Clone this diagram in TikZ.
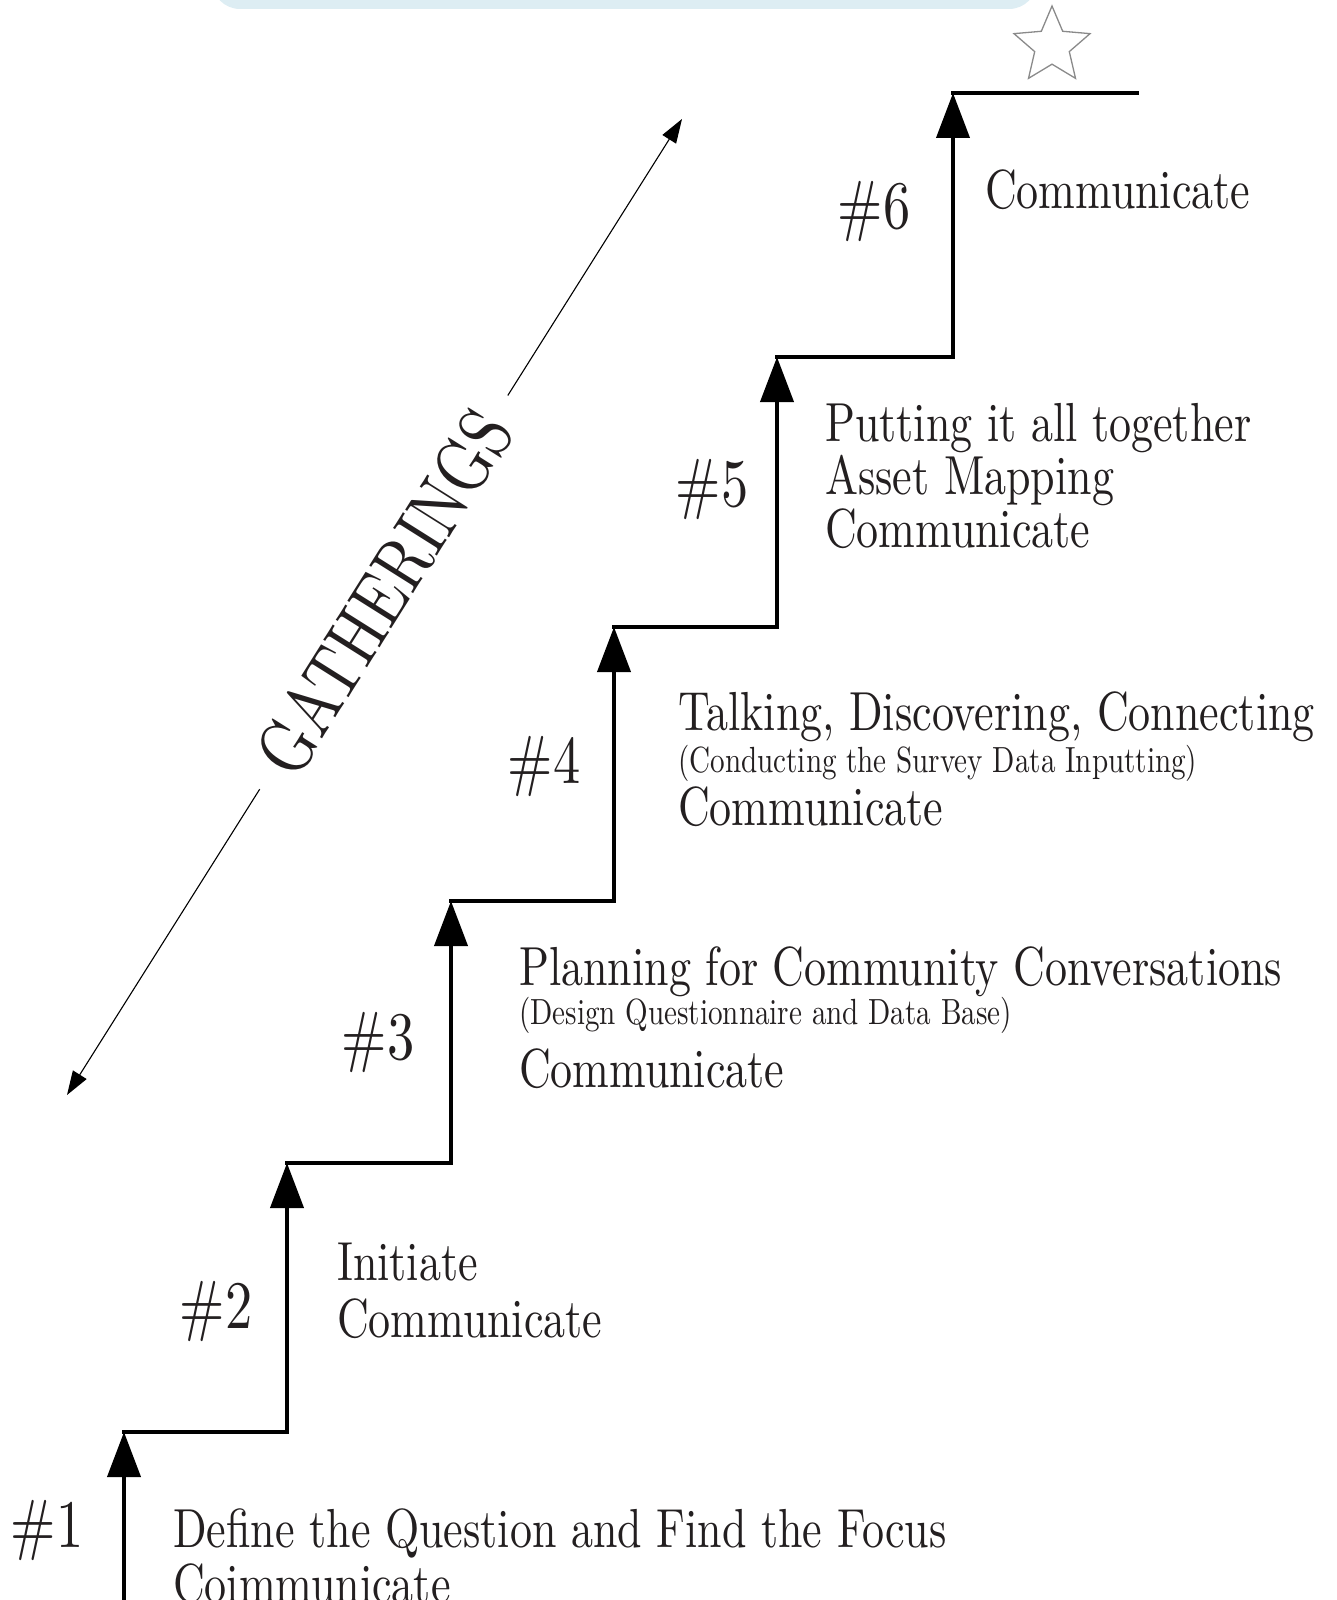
\documentclass[tikz,border=0pt]{standalone}
\usepackage{fontspec}
\setmainfont{lmroman10-regular.otf}[FakeStretch=0.8]
\usepackage{tikz}
\usetikzlibrary{arrows.meta,shapes.geometric,calc}

\definecolor{ink}{HTML}{231F20}
\definecolor{boxblue}{HTML}{DDEDF3}
\definecolor{stargray}{HTML}{8A8A8A}

\begin{document}
\begin{tikzpicture}[x=1pt,y=-1pt,
  riser/.style={line width=4pt, line cap=rect, -{Triangle[length=45pt,width=33pt]}},
  tread/.style={line width=4pt, line cap=rect},
  steplabel/.style={anchor=base, inner sep=0pt, text=ink, font=\fontsize{68}{68}\selectfont},
  bigline/.style={anchor=base west, inner sep=0pt, text=ink, font=\fontsize{55}{55}\selectfont},
  smallline/.style={anchor=base west, inner sep=0pt, text=ink, font=\fontsize{36.4}{36.4}\selectfont},
  gath/.style={line width=1.1pt, -{Triangle[length=24pt,width=16pt]}}]
\useasboundingbox (0,0) rectangle (1337,1600);

% box at the top edge
\fill[boxblue, rounded corners=28pt] (212,-60) rectangle (1037,9);

% corners of the stairs
\coordinate (c0) at (124,1600);
\coordinate (c1) at (124,1432);
\coordinate (c2) at (287,1432);
\coordinate (c3) at (287,1163);
\coordinate (c4) at (451,1163);
\coordinate (c5) at (451,901);
\coordinate (c6) at (614,901);
\coordinate (c7) at (614,627);
\coordinate (c8) at (777,627);
\coordinate (c9) at (777,357);
\coordinate (c10) at (953,357);
\coordinate (c11) at (953,93);
\coordinate (c12) at (1137,93);

\draw[riser] (c0) -- (c1);
\draw[tread] (c1) -- (c2);
\draw[riser] (c2) -- (c3);
\draw[tread] (c3) -- (c4);
\draw[riser] (c4) -- (c5);
\draw[tread] (c5) -- (c6);
\draw[riser] (c6) -- (c7);
\draw[tread] (c7) -- (c8);
\draw[riser] (c8) -- (c9);
\draw[tread] (c9) -- (c10);
\draw[riser] (c10) -- (c11);
\draw[tread] (c11) -- (c12);

% star
\node[star, star points=5, star point ratio=2.2, draw=stargray, line width=1.3pt,
  fill=white, minimum size=80pt, inner sep=0pt] (goal) at (1052,46) {};

% step numbers
\node[steplabel] (n1) at (47,1547) {\#1};
\node[steplabel] (n2) at (216,1328) {\#2};
\node[steplabel] (n3) at (378,1059) {\#3};
\node[steplabel] (n4) at (544,783) {\#4};
\node[steplabel] (n5) at (712,506) {\#5};
\node[steplabel] (n6) at (874,228) {\#6};

% step texts
\node[bigline] (t1a) at (173,1547) {Define the Question and Find the Focus};
\node[bigline] (t1b) at (173,1602) {Coimmunicate};
\node[bigline] (t2a) at (337,1280) {Initiate};
\node[bigline] (t2b) at (337,1337) {Communicate};
\node[bigline] (t3a) at (519,985) {Planning for Community Conversations};
\node[smallline] (t3b) at (519,1024) {(Design Questionnaire and Data Base)};
\node[bigline] (t3c) at (519,1087) {Communicate};
\node[bigline] (t4a) at (678,730) {Talking, Discovering, Connecting};
\node[smallline] (t4b) at (678,772) {(Conducting the Survey Data Inputting)};
\node[bigline] (t4c) at (678,825) {Communicate};
\node[bigline] (t5a) at (825,441) {Putting it all together};
\node[bigline] (t5b) at (825,494) {Asset Mapping};
\node[bigline] (t5c) at (825,547) {Communicate};
\node[bigline] (t6a) at (985,208) {Communicate};

% gatherings arrow
\coordinate (gA) at (67,1095);
\coordinate (gB) at (682,119);
\node[rotate=57.8, inner xsep=26pt, inner ysep=2pt, text=ink,
  font=\fontsize{76}{76}\selectfont] (gtext) at ($(gA)!0.515!(gB)$) {GATHERINGS};
\draw[gath] (gtext) -- (gA);
\draw[gath] (gtext) -- (gB);
\end{tikzpicture}
\end{document}
